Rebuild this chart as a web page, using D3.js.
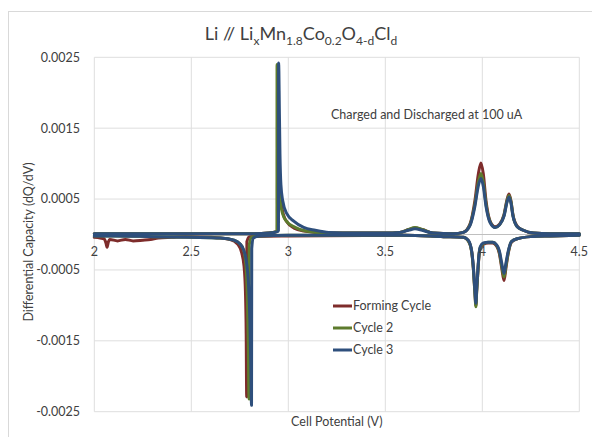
<!DOCTYPE html>
<html>
<head>
<meta charset="utf-8">
<script src="https://cdn.jsdelivr.net/npm/d3@7"></script>
<style>
  html, body { margin: 0; padding: 0; background: #fff; }
  svg { display: block; font-family: Lato, "Open Sans", sans-serif; }
</style>
</head>
<body>
<svg id="chart" width="592" height="437"></svg>
<script>
// Differential capacity dQ/dV vs. cell potential (V), three cycles.
// Each cycle has a charge branch (positive) and a discharge branch (negative).

const seriesNames = ["Forming Cycle", "Cycle 2", "Cycle 3"];
const seriesColors = ["#7e2c2b", "#5d7b2d", "#2e4f7c"];

const xTicks = [2, 2.5, 3, 3.5, 4, 4.5];
const yTicks = [-0.0025, -0.0015, -0.0005, 0.0005, 0.0015, 0.0025];
const yTickLabels = ["-0.0025", "-0.0015", "-0.0005", "0.0005", "0.0015", "0.0025"];

// Forming cycle
const formingCharge = [
  [2.00, 0.00001], [2.50, 0.00001], [2.80, 0.00001], [2.90, 0.00002], [2.940, 0.00004],
  [2.9440, 0.00006], [2.9445, 0.00236], [2.9460, 0.00220], [2.9480, 0.00170], [2.951, 0.00105],
  [2.956, 0.00065], [2.963, 0.00045], [2.975, 0.00028], [2.995, 0.00017], [3.030, 0.00009],
  [3.080, 0.00005], [3.200, 0.00002], [3.50, 0.00002], [3.575, 0.00003], [3.620, 0.00007],
  [3.653, 0.00009], [3.690, 0.00007], [3.745, 0.00002], [3.85, 0.00001], [3.902, 0.00003],
  [3.937, 0.00015], [3.962, 0.00048], [3.980, 0.00086], [3.993, 0.00101], [4.005, 0.00086],
  [4.019, 0.00048], [4.040, 0.00019], [4.066, 0.00011], [4.090, 0.00015], [4.112, 0.00028],
  [4.128, 0.00050], [4.138, 0.00057], [4.148, 0.00047], [4.158, 0.00028], [4.180, 0.00012],
  [4.211, 0.00006], [4.263, 0.00002], [4.35, 0.00001], [4.50, 0.00001]
];
const formingDischarge = [
  [2.00, -0.00004], [2.03, -0.00005], [2.050, -0.00006], [2.060, -0.00012], [2.066, -0.00018],
  [2.072, -0.00011], [2.080, -0.00007], [2.12, -0.00009], [2.16, -0.00007], [2.20, -0.00009],
  [2.25, -0.00008], [2.29, -0.00007], [2.33, -0.00005], [2.40, -0.00004], [2.47, -0.00003],
  [2.60, -0.00004], [2.70, -0.00007], [2.74, -0.00014], [2.76, -0.00026], [2.772, -0.00045],
  [2.779, -0.00080], [2.783, -0.00140], [2.7855, -0.00229], [2.7865, -0.00010], [2.80, -0.00003],
  [3.00, -0.00002], [3.60, -0.00001], [3.80, -0.00003], [3.902, -0.00004], [3.928, -0.00009],
  [3.945, -0.00024], [3.954, -0.00048], [3.962, -0.00082], [3.967, -0.00100], [3.971, -0.00080],
  [3.976, -0.00058], [3.983, -0.00030], [3.990, -0.00019], [4.005, -0.00014], [4.030, -0.00012],
  [4.053, -0.00012], [4.075, -0.00017],
  [4.088, -0.00027], [4.100, -0.00047], [4.112, -0.00065], [4.122, -0.00047], [4.134, -0.00026],
  [4.150, -0.00011], [4.180, -0.00006], [4.25, -0.00003], [4.35, -0.00002], [4.50, -0.00001]
];

// Cycle 2
const cycle2Charge = [
  [2.00, 0.00001], [2.50, 0.00001], [2.80, 0.00001], [2.90, 0.00002], [2.938, 0.00004],
  [2.9415, 0.00006], [2.9420, 0.00240], [2.9435, 0.00225], [2.9455, 0.00175], [2.949, 0.00110],
  [2.953, 0.00070], [2.958, 0.00048], [2.971, 0.00029], [2.990, 0.00019], [3.035, 0.00010],
  [3.090, 0.00005], [3.200, 0.00002], [3.50, 0.00002], [3.575, 0.00003], [3.620, 0.00007],
  [3.653, 0.00010], [3.690, 0.00007], [3.745, 0.00002], [3.85, 0.00001], [3.902, 0.00003],
  [3.937, 0.00014], [3.962, 0.00043], [3.980, 0.00074], [3.993, 0.00086], [4.005, 0.00074],
  [4.019, 0.00043], [4.040, 0.00018], [4.066, 0.00010], [4.090, 0.00014], [4.112, 0.00027],
  [4.128, 0.00048], [4.138, 0.00055], [4.148, 0.00046], [4.158, 0.00027], [4.180, 0.00011],
  [4.211, 0.00006], [4.263, 0.00002], [4.35, 0.00001], [4.50, 0.00001]
];
const cycle2Discharge = [
  [2.00, -0.00002], [2.10, -0.00002], [2.30, -0.00003], [2.50, -0.00004], [2.65, -0.00005],
  [2.72, -0.00008], [2.75, -0.00013], [2.77, -0.00022], [2.782, -0.00045], [2.789, -0.00090],
  [2.794, -0.00160], [2.7975, -0.00232], [2.7985, -0.00015], [2.81, -0.00004], [2.85, -0.00002],
  [3.00, -0.00001], [3.60, -0.00001], [3.80, -0.00003], [3.902, -0.00004], [3.928, -0.00009],
  [3.945, -0.00024], [3.954, -0.00049], [3.962, -0.00083], [3.967, -0.00102], [3.971, -0.00081],
  [3.976, -0.00058], [3.983, -0.00029], [3.990, -0.00018], [4.005, -0.00013], [4.030, -0.00011],
  [4.053, -0.00011], [4.075, -0.00016],
  [4.088, -0.00025], [4.100, -0.00044], [4.112, -0.00060], [4.122, -0.00044], [4.134, -0.00025],
  [4.150, -0.00010], [4.180, -0.00006], [4.25, -0.00003], [4.35, -0.00002], [4.50, -0.00001]
];

// Cycle 3
const cycle3Charge = [
  [2.00, 0.00001], [2.06, 0.00001], [2.50, 0.00001], [2.80, 0.00001], [2.90, 0.00002],
  [2.945, 0.00004], [2.9495, 0.00006], [2.9500, 0.00242], [2.9515, 0.00230], [2.9535, 0.00185],
  [2.957, 0.00114], [2.962, 0.00070], [2.971, 0.00048], [2.993, 0.00029], [3.028, 0.00019],
  [3.079, 0.00010], [3.139, 0.00006], [3.208, 0.00003], [3.35, 0.00002], [3.50, 0.00002],
  [3.575, 0.00003], [3.620, 0.00006], [3.653, 0.00008], [3.690, 0.00006], [3.745, 0.00002],
  [3.85, 0.00001], [3.902, 0.00003], [3.937, 0.00013], [3.962, 0.00040], [3.979, 0.00068],
  [3.993, 0.00079], [4.005, 0.00068], [4.019, 0.00040], [4.040, 0.00017], [4.066, 0.00010],
  [4.090, 0.00014], [4.112, 0.00026], [4.128, 0.00046], [4.138, 0.00053], [4.148, 0.00044],
  [4.158, 0.00026], [4.180, 0.00011], [4.211, 0.00006], [4.263, 0.00002], [4.35, 0.00001],
  [4.50, 0.00001]
];
const cycle3Discharge = [
  [2.00, -0.00002], [2.10, -0.00002], [2.30, -0.00003], [2.50, -0.00004], [2.65, -0.00005],
  [2.72, -0.00008], [2.75, -0.00013], [2.77, -0.00022], [2.785, -0.00040], [2.795, -0.00070],
  [2.802, -0.00120], [2.807, -0.00185], [2.8105, -0.00241], [2.8115, -0.00020], [2.82, -0.00005],
  [2.85, -0.00002], [3.00, -0.00001], [3.60, -0.00001], [3.80, -0.00003], [3.902, -0.00004],
  [3.928, -0.00008], [3.945, -0.00023], [3.954, -0.00046], [3.962, -0.00079], [3.967, -0.00097],
  [3.971, -0.00077], [3.976, -0.00055], [3.983, -0.00028], [3.990, -0.00017], [4.005, -0.00012],
  [4.030, -0.00011], [4.053, -0.00011],
  [4.075, -0.00015], [4.088, -0.00023], [4.100, -0.00040], [4.112, -0.00055], [4.122, -0.00040],
  [4.134, -0.00023], [4.150, -0.00010], [4.180, -0.00006], [4.25, -0.00003], [4.35, -0.00002],
  [4.50, -0.00001]
];

const cycles = [
  { name: seriesNames[0], color: seriesColors[0], branches: [formingDischarge, formingCharge] },
  { name: seriesNames[1], color: seriesColors[1], branches: [cycle2Discharge, cycle2Charge] },
  { name: seriesNames[2], color: seriesColors[2], branches: [cycle3Discharge, cycle3Charge] }
];

const svg = d3.select("#chart");
const gridColor = "#dedede";
const textColor = "#404040";

// chart frame
svg.append("rect")
  .attr("x", 8.5).attr("y", 11.5).attr("width", 600).attr("height", 440)
  .attr("fill", "#fff").attr("stroke", "#d9d9d9");

const x = d3.scaleLinear().domain([2, 4.5]).range([94.3, 579.3]);
const y = d3.scaleLinear().domain([-0.0025, 0.0025]).range([411.7, 57.3]);

// gridlines
svg.append("g").selectAll("line").data(xTicks).join("line")
  .attr("x1", d => x(d)).attr("x2", d => x(d))
  .attr("y1", y(0.0025)).attr("y2", y(-0.0025))
  .attr("stroke", gridColor).attr("stroke-width", 1);
svg.append("g").selectAll("line").data(yTicks).join("line")
  .attr("x1", x(2)).attr("x2", x(4.5))
  .attr("y1", d => y(d)).attr("y2", d => y(d))
  .attr("stroke", gridColor).attr("stroke-width", 1);

// horizontal axis at zero
svg.append("line")
  .attr("x1", x(2)).attr("x2", x(4.5)).attr("y1", y(0)).attr("y2", y(0))
  .attr("stroke", "#bfbfbf").attr("stroke-width", 1);

// y tick labels
svg.append("g").selectAll("text").data(yTicks).join("text")
  .attr("x", 80).attr("y", d => y(d)).attr("dy", "0.35em")
  .attr("text-anchor", "end").attr("font-size", 12.5).attr("fill", textColor)
  .text((d, i) => yTickLabels[i]);

// curves
const line = d3.line()
  .x(d => x(d[0])).y(d => y(d[1]))
  .curve(d3.curveMonotoneX);

const plot = svg.append("g");
cycles.forEach(c => {
  c.branches.forEach(b => {
    plot.append("path")
      .datum(b.slice().sort((a, z) => a[0] - z[0]))
      .attr("d", line)
      .attr("fill", "none")
      .attr("stroke", c.color)
      .attr("stroke-width", 3)
      .attr("stroke-linejoin", "round")
      .attr("stroke-linecap", "round");
  });
});

// x tick labels below the zero line, drawn above the curves
svg.append("g").selectAll("text").data(xTicks).join("text")
  .attr("x", d => x(d)).attr("y", y(0) + 17).attr("dy", "0.35em")
  .attr("text-anchor", "middle").attr("font-size", 12.5).attr("fill", textColor)
  .text(d => d3.format("")(d));

// title with chemical subscripts
const title = svg.append("text")
  .attr("x", 301).attr("y", 40)
  .attr("text-anchor", "middle").attr("font-size", 18).attr("fill", "#404040");
const titleParts = [
  ["Li // Li", false], ["x", true], ["Mn", false], ["1.8", true], ["Co", false],
  ["0.2", true], ["O", false], ["4-d", true], ["Cl", false], ["d", true]
];
let sub = false;
titleParts.forEach(([t, s]) => {
  const ts = title.append("tspan").text(t);
  if (s) ts.attr("font-size", 12);
  if (s !== sub) ts.attr("dy", s ? 5 : -5);
  sub = s;
});

// annotation
svg.append("text")
  .attr("x", 331).attr("y", 115).attr("dy", "0.35em")
  .attr("font-size", 12.5).attr("fill", textColor)
  .text("Charged and Discharged at 100 uA");

// axis titles
svg.append("text")
  .attr("x", x(3.25)).attr("y", 422).attr("dy", "0.35em")
  .attr("text-anchor", "middle").attr("font-size", 12.5).attr("fill", textColor)
  .text("Cell Potential (V)");
svg.append("text")
  .attr("transform", "translate(29,242) rotate(-90)")
  .attr("dy", "0.35em")
  .attr("text-anchor", "middle").attr("font-size", 12.5).attr("fill", textColor)
  .text("Differential Capacity (dQ/dV)");

// legend
const legend = svg.append("g");
cycles.forEach((c, i) => {
  const ly = 306 + i * 22;
  legend.append("line")
    .attr("x1", 333).attr("x2", 352).attr("y1", ly).attr("y2", ly)
    .attr("stroke", c.color).attr("stroke-width", 3);
  legend.append("text")
    .attr("x", 353).attr("y", ly).attr("dy", "0.35em")
    .attr("font-size", 12.5).attr("fill", textColor)
    .text(c.name);
});
</script>
</body>
</html>
